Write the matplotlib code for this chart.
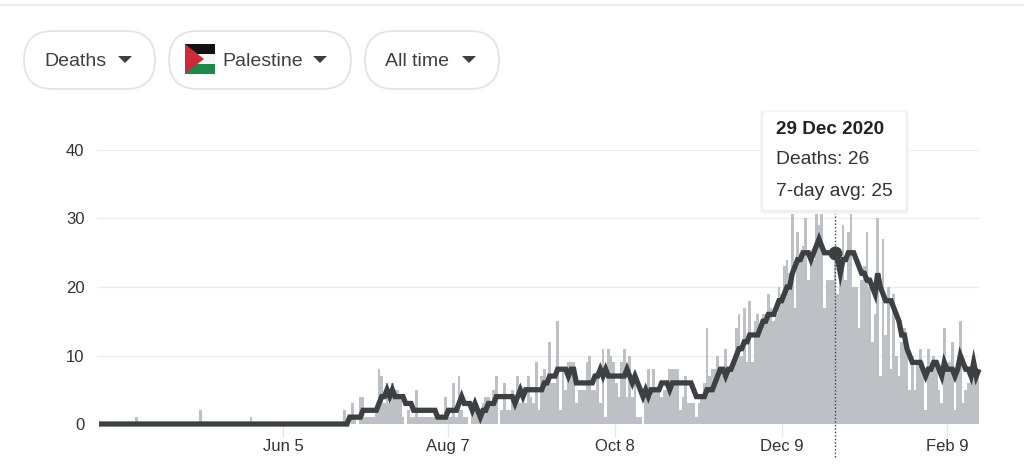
import matplotlib
matplotlib.use("Agg")
import matplotlib.pyplot as plt
from matplotlib.patches import FancyBboxPatch, Polygon, Rectangle

W, H = 1024, 467

# daily deaths, day 0 = 28 Mar 2020
deaths = [0]*14 + [1] + [0]*23 + [2] + [0]*18 + [1] + [0]*34 + [
    2, 0, 0, 3, 1, 0, 4, 4, 1, 1, 1, 1, 2, 8, 7, 3, 6, 3, 6, 5, 5, 4, 1, 0, 2, 1, 1, 5,
    1, 1, 1, 1, 1, 1, 1, 1, 1, 1, 4, 1, 1, 6, 1, 7, 2, 1, 1, 0, 2, 2, 2, 2, 3, 4, 4, 3,
    5, 7, 0, 2, 6, 2, 2, 5, 4, 7, 3, 3, 3, 7, 4, 3, 9, 2, 7, 8, 6, 12, 6, 6, 15,
    2, 8, 5, 9, 9, 9, 3, 5, 5, 5, 9, 10, 5, 5, 7, 3, 11, 1, 11, 10, 9, 6, 4, 9, 11, 4,
    10, 4, 7, 1, 1, 0, 4, 8, 4, 8, 5, 5, 4, 5, 5, 8, 8, 8, 8, 2, 4, 7, 3, 3, 3, 1,
    3, 4, 6, 14, 7, 8, 8, 10, 8, 7, 11, 8, 8, 9, 14, 16, 10, 17, 9, 18, 9, 15, 16, 14,
    16, 16, 19, 17, 15, 16, 20, 19, 23, 24, 22, 32, 17, 28, 25, 26, 30, 21, 25, 24, 32,
    29, 32, 17, 21, 21, 21, 26, 19, 21, 29, 21, 28, 32,
    20, 20, 14, 21, 23, 28, 20, 12, 16, 30, 7, 27, 13, 20, 8, 19, 10, 7, 12, 14, 12, 5,
    10, 5, 9, 11, 9, 2, 11, 9, 10, 9, 5, 3, 14, 8, 9, 12, 2, 8, 15, 3, 5, 6, 8, 7, 7, 7,
]

# 7-day average
avg = [0]*94 + [1]*5 + [2]*6 + [3, 4, 4, 5, 4, 5, 4, 4, 4, 4, 3, 3, 3] + [2]*9 + [1]*4 + [2]*4 + [
    3, 4, 3, 3, 3, 2, 3, 2, 1, 2, 2, 3, 3, 3, 4, 4, 4, 4, 4, 4, 4, 3, 4, 5, 4,
    5, 5, 5, 5, 5, 5, 5, 6, 6, 7, 7, 7, 8, 8, 8, 8, 7, 8, 8, 6, 6, 6, 6, 6, 6, 6,
    7, 7, 8, 7, 8, 7, 7, 7, 7, 7, 7, 7, 8, 7, 6, 7, 6, 5, 4, 5, 4, 5, 5, 5, 5, 6, 6, 6, 5,
    6, 6, 6, 6, 6, 6, 6, 6, 5, 4, 4, 4, 4, 5, 5, 5, 6, 7, 8, 8, 7, 8, 8, 9, 10, 11, 11,
    12, 12, 13, 13, 13, 13, 14, 15, 15, 16, 16, 16, 17, 18, 18, 19, 20, 20, 22, 23, 24, 24,
    25, 25, 25, 24, 25, 26, 27, 26, 25, 25, 25, 25, 25, 24, 22, 24, 24, 25, 25, 25, 24, 23,
    22, 22, 21, 21, 20, 19, 22, 20, 19, 18, 18, 18, 17, 16, 15, 13, 13, 11, 10, 9, 9, 9, 9,
    8, 7, 8, 8, 9, 9, 8, 7, 9, 8, 8, 8, 7, 8, 10, 9, 8, 8, 7, 9, 7, 8,
]

y_ticks = [0, 10, 20, 30, 40]
x_tick_days = [69, 131, 193.5, 256, 318]
x_tick_labels = ["Jun 5", "Aug 7", "Oct 8", "Dec 9", "Feb 9"]
hover_day = 276
hover_avg = 25

plt.rcParams["font.family"] = ["Liberation Sans", "DejaVu Sans"]
text_col = "#3c4043"

fig = plt.figure(figsize=(W / 100, H / 100), dpi=100)

# chart, placed by pixels: x 97-979, y 150 (40) to 424 (0)
ax = fig.add_axes([97 / W, 1 - 424 / H, 882 / W, 274 / H])
ax.bar(range(len(deaths)), deaths, width=1.0, color="#bdc1c6", zorder=2)
ax.plot(range(len(avg)), avg, color="#3c4043", lw=3.8, zorder=3, clip_on=False,
        solid_joinstyle="miter", solid_capstyle="butt")
ax.plot([hover_day], [hover_avg], "o", color="#3c4043", ms=9, zorder=4)
ax.axvline(hover_day, ymin=-0.12, ymax=1, color="#3c4043", lw=1, ls=(0, (1, 1.5)),
           zorder=4, clip_on=False)
ax.set_xlim(-0.75, 330)
ax.set_ylim(0, 40)
ax.set_yticks(y_ticks)
ax.set_xticks(x_tick_days)
ax.set_xticklabels(x_tick_labels)
ax.grid(axis="y", color="#ededed", lw=1, zorder=0)
ax.tick_params(axis="y", length=0, labelsize=12, labelcolor="#333333", pad=9)
ax.tick_params(axis="x", length=9, width=1, color="#e8e8e8", labelsize=12,
               labelcolor="#333333", pad=2)
for s in ax.spines.values():
    s.set_visible(False)

# overlay in pixel coordinates for the page controls and tooltip
ui = fig.add_axes([0, 0, 1, 1], zorder=5)
ui.set_xlim(0, W)
ui.set_ylim(H, 0)
ui.axis("off")
ui.plot([0, W], [4.5, 4.5], color="#eeeeee", lw=1.5)


def pill(x0, x1, label, text_x, arrow_x):
    ui.add_patch(FancyBboxPatch((x0, 31), x1 - x0, 58,
                                boxstyle="round,pad=0,rounding_size=29", fc="white",
                                ec="#e2e2e2", lw=1.2))
    ui.text(text_x, 61, label, fontsize=14, color=text_col, va="center", ha="left")
    ui.add_patch(Polygon([[arrow_x, 56], [arrow_x + 14, 56], [arrow_x + 7, 63]],
                         fc=text_col, ec="none"))


pill(24, 155, "Deaths", 44, 118)
pill(169, 351, "Palestine", 222, 313)
pill(365, 499, "All time", 385, 462)

# flag
ui.add_patch(Rectangle((185, 44), 30, 10, fc="#111111", ec="none"))
ui.add_patch(Rectangle((185, 54), 30, 10, fc="#f4f4f4", ec="none"))
ui.add_patch(Rectangle((185, 64), 30, 9.5, fc="#1d8a4a", ec="none"))
ui.add_patch(Polygon([[185, 44], [204, 59], [185, 73.5]], fc="#cf2a3a", ec="none"))

# tooltip
for grow, col in [(3, "#f7f7f7"), (1.5, "#eeeeee")]:
    ui.add_patch(FancyBboxPatch((763 - grow, 112 - grow + 1), 143 + 2 * grow, 98 + 2 * grow,
                                boxstyle="round,pad=0,rounding_size=3", fc=col, ec="none"))
ui.add_patch(FancyBboxPatch((763, 112), 143, 98, boxstyle="round,pad=0,rounding_size=3",
                            fc="white", ec="none"))
ui.text(776, 129, "29 Dec 2020", fontsize=13.6, fontweight="bold", color="#222222", va="center")
ui.text(776, 159, "Deaths: 26", fontsize=13.9, color="#333333", va="center")
ui.text(776, 191, "7-day avg: 25", fontsize=13.9, color="#333333", va="center")

fig.savefig("out.png", dpi=100)
